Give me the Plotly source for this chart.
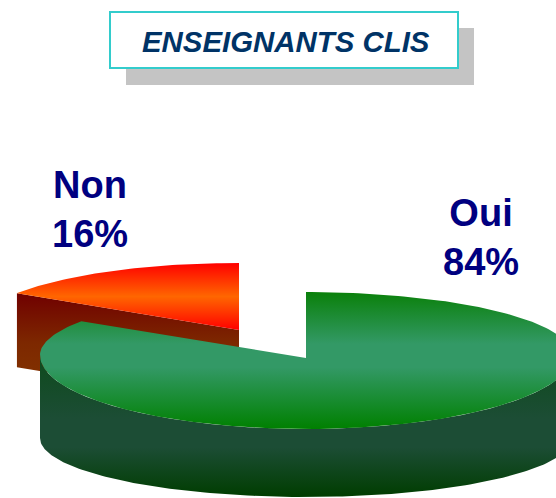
import numpy as np
import plotly.graph_objects as go

categories = ["Oui", "Non"]
values = [84, 16]
title_text = "ENSEIGNANTS CLIS"

W, H = 556, 498
GREEN_APEX = (306, 358)
GREEN_RIM = dict(cx=306, cy=355, rx=266, up=63, down=74)
GREEN_FLOOR = dict(cx=306, cy=438, rx=266, up=59, down=59)
ORANGE_APEX = (239, 330)
ORANGE_RIM = dict(cx=239, cy=328, rx=263, up=65, down=65)
ORANGE_DEPTH = 74


def pt(rim, frac):
    """Point on a rim in perspective; frac = share of the circle, clockwise from 12 o'clock."""
    a = 2 * np.pi * np.asarray(frac)
    c = np.cos(a)
    return rim["cx"] + rim["rx"] * np.sin(a), rim["cy"] - np.where(c > 0, rim["up"], rim["down"]) * c


oui = values[0] / sum(values)
t_green = np.linspace(0, oui, 240)
t_orange = np.linspace(oui, 1, 60)

gx, gy = pt(GREEN_RIM, t_green)
ox, oy = pt(ORANGE_RIM, t_orange)

# front wall of the green slice: from the right extreme, round the bottom, to the left extreme
t_wall = np.linspace(0.25, 0.75, 150)
wx, wy = pt(GREEN_RIM, t_wall)
fx, fy = pt(GREEN_FLOOR, t_wall)

tipx, tipy = pt(ORANGE_RIM, oui)


def poly(x, y, stops, name):
    # the y axis is reversed, so colour stops listed top-to-bottom on screen are mirrored
    flipped = [[1 - s, c] for s, c in reversed(stops)]
    return go.Scatter(
        x=list(x), y=list(y), mode="lines", line=dict(width=0),
        fill="toself", name=name, hoverinfo="skip", showlegend=False,
        fillgradient=dict(type="vertical", colorscale=flipped),
    )


fig = go.Figure()

# orange wall (cut face)
fig.add_trace(poly(
    [tipx, ORANGE_APEX[0], ORANGE_APEX[0], tipx, tipx],
    [tipy, ORANGE_APEX[1], ORANGE_APEX[1] + ORANGE_DEPTH, tipy + ORANGE_DEPTH, tipy],
    [[0, "#700000"], [0.45, "#7d2800"], [1, "#853800"]], "Non wall"))

# orange top
fig.add_trace(poly(
    np.r_[ORANGE_APEX[0], ox, ORANGE_APEX[0]], np.r_[ORANGE_APEX[1], oy, ORANGE_APEX[1]],
    [[0, "#ff0000"], [0.5, "#ff6600"], [1, "#ff0000"]], categories[1]))

# green wall
fig.add_trace(poly(
    np.r_[wx, fx[::-1]], np.r_[wy, fy[::-1]],
    [[0, "#0e4a1c"], [0.45, "#1c4d35"], [0.65, "#1c4d35"], [1, "#003d00"]], "Oui wall"))

# green top
fig.add_trace(poly(
    np.r_[GREEN_APEX[0], gx, GREEN_APEX[0]], np.r_[GREEN_APEX[1], gy, GREEN_APEX[1]],
    [[0, "#0a800a"], [0.38, "#339966"], [0.55, "#339966"], [1, "#008000"]], categories[0]))

shapes = [
    dict(type="rect", x0=126, x1=474, y0=28, y1=85, fillcolor="#c4c4c4", line_width=0, layer="below"),
    dict(type="rect", x0=110, x1=458, y0=12, y1=68, fillcolor="white",
         line=dict(color="#33cccc", width=2), layer="below"),
]

annotations = [
    dict(x=286, y=41, text=f"<b><i>{title_text}</i></b>", showarrow=False,
         font=dict(family="Liberation Sans", size=29.4, color="#003366")),
    dict(x=90, y=209, text=f"<b>{categories[1]}<br>{values[1]}%</b>", showarrow=False,
         font=dict(family="Liberation Sans", size=38, color="#000080")),
    dict(x=481, y=237, text=f"<b>{categories[0]}<br>{values[0]}%</b>", showarrow=False,
         font=dict(family="Liberation Sans", size=38, color="#000080")),
]

fig.update_layout(
    width=W, height=H, margin=dict(l=0, r=0, t=0, b=0),
    paper_bgcolor="white", plot_bgcolor="white", showlegend=False,
    xaxis=dict(range=[0, W], visible=False, fixedrange=True),
    yaxis=dict(range=[H, 0], visible=False, fixedrange=True),
    shapes=shapes, annotations=annotations,
)

fig.write_html("out.html", config=dict(displayModeBar=False),
               post_script="document.body.style.margin='0';document.body.style.overflow='hidden';")
